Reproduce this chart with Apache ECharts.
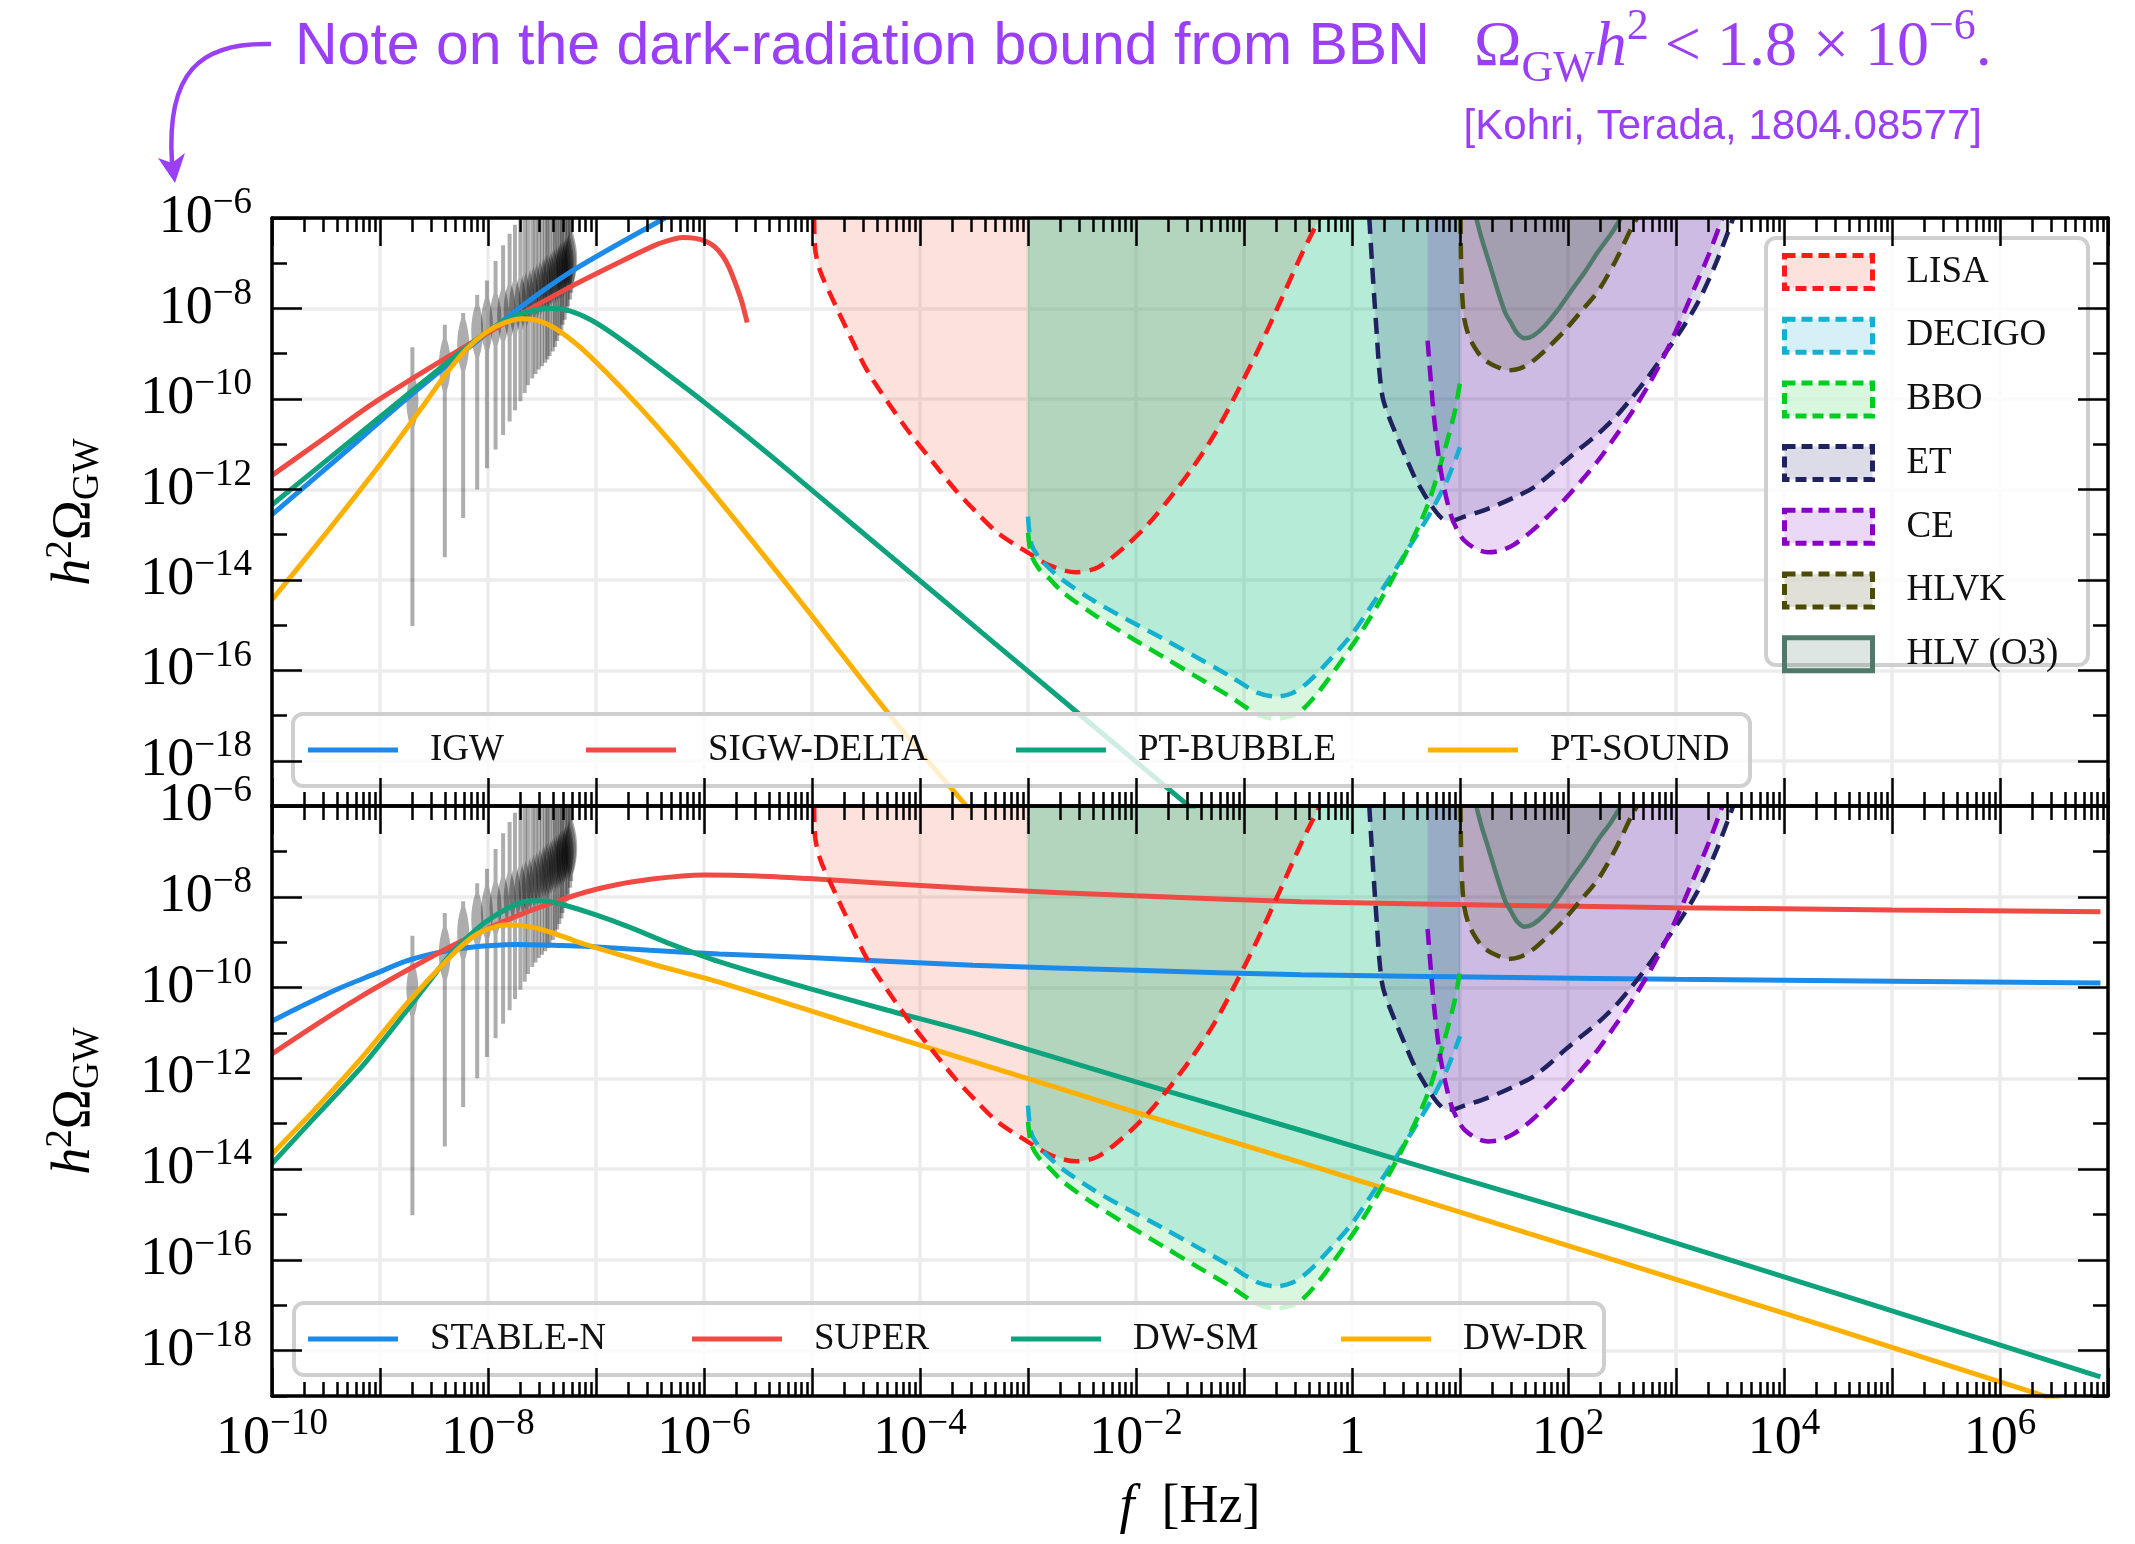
<!DOCTYPE html>
<html>
<head>
<meta charset="utf-8">
<title>Gravitational-wave spectra and detector sensitivities</title>
<script src="https://cdn.jsdelivr.net/npm/echarts@6.0.0/dist/echarts.min.js"></script>
<style>
  html, body { margin: 0; padding: 0; background: #ffffff; }
  #chart { width: 2135px; height: 1544px; }
</style>
</head>
<body>
<div id="chart"></div>
<script>
// Every curve is a list of [log10(f / Hz), log10(h^2 Omega_GW)] pairs.

// ---- upper panel: primordial sources ----
const igw = [[-10,-12.56],[-9.38,-11.29],[-8.70,-9.89],[-7.84,-8.23],[-7.22,-7.17],[-6.36,-6.0]];
const sigwDelta = [[-10,-11.69],[-9.5,-10.84],[-9.07,-10.11],[-8.46,-9.2],[-7.84,-8.32],[-7.22,-7.5],[-6.76,-6.95],[-6.45,-6.6],[-6.3,-6.48],[-6.2,-6.43],[-6.08,-6.45],[-5.98,-6.52],[-5.9,-6.64],[-5.83,-6.83],[-5.77,-7.08],[-5.71,-7.44],[-5.65,-7.85],[-5.6,-8.31]];
const ptBubble = [[-10,-12.34],[-9.5,-11.37],[-9.0,-10.4],[-8.5,-9.43],[-8.15,-8.77],[-7.95,-8.42],[-7.75,-8.17],[-7.55,-8.03],[-7.4,-8.0],[-7.25,-8.05],[-7.05,-8.25],[-6.85,-8.55],[-6.6,-8.98],[-6.3,-9.52],[-6.0,-10.07],[-5.6,-10.83],[-5.2,-11.62],[-4.6,-12.82],[-4.0,-14.02],[-3.3,-15.42],[-2.64,-16.74],[-2.0,-18.02],[-1.3,-19.42]];
const ptSound = [[-10,-14.44],[-9.5,-12.97],[-9.0,-11.45],[-8.6,-10.15],[-8.39,-9.45],[-8.2,-8.9],[-8.02,-8.53],[-7.85,-8.32],[-7.68,-8.23],[-7.52,-8.28],[-7.37,-8.45],[-7.15,-8.85],[-6.91,-9.4],[-6.6,-10.17],[-6.29,-11.0],[-5.9,-12.12],[-5.55,-13.15],[-5.0,-14.8],[-4.41,-16.6],[-4.0,-17.8],[-3.57,-19.0],[-3.4,-19.5]];

// ---- lower panel: cosmic strings and domain walls ----
const stableN = [[-10,-10.74],[-9.7,-10.38],[-9.38,-10.02],[-9.05,-9.7],[-8.76,-9.42],[-8.5,-9.25],[-8.25,-9.14],[-8.0,-9.08],[-7.72,-9.05],[-7.4,-9.07],[-7.1,-9.09],[-6.5,-9.18],[-5.86,-9.26],[-5.03,-9.34],[-3.51,-9.51],[-2.0,-9.62],[-0.47,-9.72],[1.5,-9.78],[3.0,-9.82],[5.0,-9.86],[6.93,-9.9]];
const superStr = [[-10,-11.46],[-9.58,-10.8],[-9.17,-10.19],[-8.75,-9.62],[-8.34,-9.09],[-8.0,-8.7],[-7.72,-8.41],[-7.4,-8.13],[-7.1,-7.9],[-6.8,-7.73],[-6.48,-7.61],[-6.2,-7.54],[-5.99,-7.52],[-5.5,-7.54],[-5.03,-7.6],[-3.51,-7.82],[-2.0,-7.98],[-0.47,-8.11],[1.5,-8.19],[2.98,-8.24],[5.0,-8.29],[6.93,-8.33]];
const dwSm = [[-10,-13.88],[-9.6,-12.85],[-9.17,-11.75],[-8.75,-10.5],[-8.34,-9.25],[-8.1,-8.7],[-7.93,-8.41],[-7.75,-8.18],[-7.6,-8.09],[-7.45,-8.1],[-7.31,-8.17],[-7.0,-8.4],[-6.69,-8.67],[-6.3,-9.05],[-5.86,-9.43],[-5.03,-10.02],[-4.3,-10.5],[-3.51,-11.0],[-2.0,-12.08],[-0.47,-13.15],[1.0,-14.2],[2.49,-15.25],[4.7,-16.9],[6.93,-18.58]];
const dwDr = [[-10,-13.67],[-9.6,-12.68],[-9.17,-11.55],[-8.75,-10.35],[-8.34,-9.3],[-8.15,-8.9],[-8.01,-8.72],[-7.85,-8.62],[-7.7,-8.63],[-7.52,-8.71],[-7.3,-8.88],[-7.1,-9.05],[-6.5,-9.47],[-5.86,-9.88],[-4.7,-10.75],[-3.51,-11.63],[-2.0,-12.75],[-0.47,-13.86],[1.0,-14.95],[2.49,-16.05],[4.5,-17.55],[6.53,-19.09],[7.0,-19.45]];

// ---- detector sensitivity curves (filled towards the top of the panel) ----
const lisa = [[-4.98,-6.0],[-4.97,-6.7],[-4.92,-7.2],[-4.81,-7.79],[-4.65,-8.6],[-4.49,-9.37],[-4.29,-10.1],[-4.09,-10.77],[-3.88,-11.4],[-3.68,-11.99],[-3.48,-12.5],[-3.28,-12.96],[-3.0,-13.4],[-2.8,-13.68],[-2.56,-13.83],[-2.35,-13.72],[-2.08,-13.22],[-1.88,-12.75],[-1.68,-12.17],[-1.47,-11.5],[-1.27,-10.77],[-1.07,-9.88],[-0.87,-8.92],[-0.67,-7.88],[-0.47,-6.82],[-0.3,-6.0]];
const decigo = [[-3.0,-12.6],[-2.97,-13.2],[-2.9,-13.5],[-2.8,-13.75],[-2.68,-14.0],[-2.4,-14.45],[-2.08,-14.88],[-1.75,-15.3],[-1.47,-15.67],[-1.15,-16.1],[-0.87,-16.5],[-0.7,-16.58],[-0.55,-16.5],[-0.4,-16.25],[-0.2,-15.75],[0.0,-15.2],[0.2,-14.5],[0.38,-13.85],[0.55,-13.2],[0.73,-12.5],[0.88,-11.8],[1.0,-11.07]];
const bbo = [[-3.0,-12.96],[-2.97,-13.45],[-2.9,-13.75],[-2.8,-13.98],[-2.68,-14.27],[-2.4,-14.75],[-2.08,-15.23],[-1.75,-15.7],[-1.47,-16.1],[-1.15,-16.55],[-0.87,-16.98],[-0.71,-17.07],[-0.55,-17.0],[-0.45,-16.85],[-0.3,-16.45],[-0.1,-15.8],[0.1,-15.1],[0.3,-14.3],[0.5,-13.4],[0.7,-12.35],[0.85,-11.2],[0.95,-10.3],[1.0,-9.63]];
const et = [[0.16,-6.0],[0.183,-6.91],[0.207,-7.79],[0.232,-8.66],[0.253,-9.37],[0.285,-9.98],[0.346,-10.42],[0.42,-10.85],[0.5,-11.3],[0.58,-11.73],[0.66,-12.07],[0.73,-12.34],[0.8,-12.56],[0.87,-12.69],[0.95,-12.68],[1.04,-12.6],[1.2,-12.48],[1.35,-12.34],[1.5,-12.18],[1.66,-11.99],[1.82,-11.7],[1.97,-11.38],[2.12,-11.08],[2.28,-10.77],[2.44,-10.4],[2.59,-9.98],[2.74,-9.52],[2.89,-9.02],[3.05,-8.47],[3.2,-7.88],[3.37,-7.0],[3.53,-6.0]];
const ce = [[0.70,-8.71],[0.73,-9.6],[0.76,-10.42],[0.79,-11.05],[0.82,-11.56],[0.87,-12.15],[0.92,-12.6],[0.98,-12.92],[1.04,-13.13],[1.15,-13.32],[1.26,-13.39],[1.38,-13.35],[1.5,-13.22],[1.65,-12.95],[1.81,-12.6],[1.97,-12.22],[2.12,-11.82],[2.28,-11.36],[2.43,-10.86],[2.59,-10.3],[2.74,-9.72],[2.9,-9.0],[3.05,-8.23],[3.18,-7.5],[3.3,-6.83],[3.43,-6.0]];
const hlvk = [[1.005,-6.0],[1.01,-7.0],[1.02,-7.7],[1.04,-8.23],[1.08,-8.6],[1.13,-8.84],[1.19,-9.05],[1.26,-9.19],[1.35,-9.3],[1.44,-9.37],[1.55,-9.33],[1.66,-9.19],[1.8,-8.9],[1.97,-8.49],[2.12,-8.07],[2.28,-7.61],[2.44,-6.95],[2.59,-6.21],[2.64,-6.0]];
const hlvO3 = [[1.15,-6.0],[1.2,-6.45],[1.26,-6.91],[1.35,-7.61],[1.42,-8.1],[1.47,-8.31],[1.53,-8.55],[1.6,-8.66],[1.68,-8.6],[1.78,-8.4],[1.9,-8.05],[2.03,-7.61],[2.16,-7.18],[2.28,-6.74],[2.4,-6.35],[2.49,-6.0]];

// ---- pulsar-timing free-spectrum violins: [log10 f, lower end, upper end, median] ----
const ptaViolins = [
  [-8.70,-15.02,-8.86,-10.05],[-8.40,-13.50,-8.36,-9.25],[-8.23,-12.63,-8.10,-8.80],
  [-8.10,-12.00,-7.70,-8.50],[-8.01,-11.53,-7.38,-8.35],[-7.93,-11.12,-6.95,-8.25],
  [-7.86,-10.80,-6.60,-8.15],[-7.80,-10.50,-6.35,-8.05],[-7.75,-10.25,-6.15,-7.97],
  [-7.70,-10.05,-5.90,-7.90],[-7.66,-9.87,-5.50,-7.83],[-7.63,-9.70,-5.50,-7.76],
  [-7.59,-9.55,-5.50,-7.70],[-7.56,-9.45,-5.50,-7.64],[-7.53,-9.35,-5.50,-7.58],
  [-7.50,-9.28,-5.50,-7.52],[-7.47,-9.20,-5.50,-7.47],[-7.45,-9.13,-5.50,-7.42],
  [-7.43,-9.05,-5.50,-7.37],[-7.40,-8.95,-5.50,-7.32],[-7.38,-8.85,-5.50,-7.28],
  [-7.36,-8.72,-5.50,-7.24],[-7.34,-8.60,-5.50,-7.20],[-7.32,-8.48,-5.50,-7.16],
  [-7.31,-8.36,-5.50,-7.12],[-7.29,-8.25,-5.50,-7.08],[-7.27,-8.10,-5.50,-7.04],
  [-7.26,-7.95,-5.50,-7.00],[-7.24,-7.80,-5.50,-6.96],[-7.23,-7.65,-5.50,-6.92]
];

// ---- axis ticks (exponents) ----
const xDecades = [-10,-9,-8,-7,-6,-5,-4,-3,-2,-1,0,1,2,3,4,5,6,7];
const xLabelDecades = [-10,-8,-6,-4,-2,0,2,4,6];
const yMajor = [-18,-16,-14,-12,-10,-8,-6];
const yMinor = [-19,-17,-15,-13,-11,-9,-7];
const xMinor = [];
for (let n = -10; n < 7; n++) {
  for (let k = 2; k <= 9; k++) xMinor.push(n + Math.log10(k));
}

const SERIF = '"Liberation Serif", "DejaVu Serif", serif';
const SANS = '"Liberation Sans", "DejaVu Sans", Arial, sans-serif';
const PURPLE = '#9a3ff5';
const GRID_LINE = '#ececec';

const upperLines = [
  { name: 'IGW', data: igw, color: '#1c8ae8' },
  { name: 'SIGW-DELTA', data: sigwDelta, color: '#ef4b44' },
  { name: 'PT-BUBBLE', data: ptBubble, color: '#0ea37c' },
  { name: 'PT-SOUND', data: ptSound, color: '#fdb000' }
];
const lowerLines = [
  { name: 'STABLE-N', data: stableN, color: '#1c8ae8' },
  { name: 'SUPER', data: superStr, color: '#ef4b44' },
  { name: 'DW-SM', data: dwSm, color: '#0ea37c' },
  { name: 'DW-DR', data: dwDr, color: '#fdb000' }
];
const detectors = [
  { name: 'LISA', data: lisa, color: '#ff1a1a', fill: 'rgba(245,70,40,0.16)', dash: true },
  { name: 'DECIGO', data: decigo, color: '#14b0d0', fill: 'rgba(20,176,208,0.18)', dash: true },
  { name: 'BBO', data: bbo, color: '#00cc22', fill: 'rgba(0,204,34,0.15)', dash: true },
  { name: 'ET', data: et, color: '#202260', fill: 'rgba(22,22,102,0.15)', dash: true },
  { name: 'CE', data: ce, color: '#8800c4', fill: 'rgba(138,22,200,0.17)', dash: true },
  { name: 'HLVK', data: hlvk, color: '#4b4b05', fill: 'rgba(73,73,26,0.17)', dash: true },
  { name: 'HLV (O3)', data: hlvO3, color: '#4f7a6a', fill: 'rgba(79,122,106,0.19)', dash: false }
];

function powLabel(v) {
  const n = Math.round(v);
  if (n === 0) return '{b|1}';
  return '{b|10}{s|' + (n < 0 ? '\u2212' : '') + Math.abs(n) + '}';
}
const tickRich = {
  b: { fontFamily: SERIF, fontSize: 54, lineHeight: 66, color: '#000' },
  s: { fontFamily: SERIF, fontSize: 37, lineHeight: 32, verticalAlign: 'top', color: '#000' }
};

const frameLine = { show: true, onZero: false, lineStyle: { color: '#000', width: 3.5 } };
const tickLine = { color: '#000', width: 2.5 };
const noLine = { show: false, onZero: false };

function xAxesFor(g, withLabels) {
  const base = { type: 'value', gridIndex: g, min: -10, max: 7, splitLine: { show: false }, axisLabel: { show: false }, axisPointer: { show: false } };
  const main = Object.assign({}, base, {
    position: 'bottom', z: 0, axisLine: noLine,
    axisTick: { show: false, customValues: xDecades },
    splitLine: { show: true, lineStyle: { color: GRID_LINE, width: 3.5 } },
    axisLabel: withLabels
      ? { show: true, customValues: xLabelDecades, formatter: powLabel, rich: tickRich, margin: 10 }
      : { show: false }
  });
  if (withLabels) {
    main.name = '{i|f}{r|  [Hz]}';
    main.nameLocation = 'middle';
    main.nameGap = 80;
    main.nameTextStyle = {
      rich: {
        i: { fontFamily: SERIF, fontStyle: 'italic', fontSize: 54, lineHeight: 64, color: '#000' },
        r: { fontFamily: SERIF, fontSize: 54, lineHeight: 64, color: '#000' }
      }
    };
  }
  const mk = (pos, values, len, line) => Object.assign({}, base, {
    position: pos, z: 5, axisLine: line ? frameLine : noLine,
    axisTick: { show: true, inside: true, length: len, customValues: values, lineStyle: tickLine }
  });
  return [main, mk('bottom', xDecades, 28, true), mk('bottom', xMinor, 14, false), mk('top', xDecades, 28, true), mk('top', xMinor, 14, false)];
}

function yAxesFor(g) {
  const base = { type: 'value', gridIndex: g, min: -19, max: -6, splitLine: { show: false }, axisLabel: { show: false }, axisPointer: { show: false } };
  const main = Object.assign({}, base, {
    position: 'left', z: 0, axisLine: noLine,
    axisTick: { show: false, customValues: yMajor },
    splitLine: { show: true, lineStyle: { color: GRID_LINE, width: 3.5 } },
    axisLabel: { show: true, customValues: yMajor, formatter: powLabel, rich: tickRich, margin: 20 },
    name: '{i|h}{sup|2}{r|\u03A9}{sub|GW}',
    nameLocation: 'middle', nameRotate: 90, nameGap: 165,
    nameTextStyle: {
      rich: {
        i: { fontFamily: SERIF, fontStyle: 'italic', fontSize: 54, lineHeight: 64, color: '#000' },
        sup: { fontFamily: SERIF, fontSize: 37, lineHeight: 30, verticalAlign: 'top', color: '#000' },
        r: { fontFamily: SERIF, fontSize: 54, lineHeight: 64, color: '#000' },
        sub: { fontFamily: SERIF, fontSize: 37, lineHeight: 42, verticalAlign: 'bottom', color: '#000' }
      }
    }
  });
  const mk = (pos, values, len, line) => Object.assign({}, base, {
    position: pos, z: 5, axisLine: line ? frameLine : noLine,
    axisTick: { show: true, inside: true, length: len, customValues: values, lineStyle: tickLine }
  });
  return [main, mk('left', yMajor, 30, true), mk('left', yMinor, 15, false), mk('right', yMajor, 30, true), mk('right', yMinor, 15, false)];
}

// Violin glyph: thin stem between the ends, widened around the median.
function renderViolin(params, api) {
  const f = api.value(0), lo = api.value(1), hi = api.value(2), med = api.value(3);
  const top = api.coord([f, hi]);
  const bot = api.coord([f, lo]);
  const mid = api.coord([f, med]);
  const x = mid[0], ym = mid[1];
  const stem = 2, bulge = 6, bh = 26;
  const left = [[x - stem, top[1]]];
  for (let i = -4; i <= 4; i++) {
    const t = i / 4;
    left.push([x - (stem + (bulge - stem) * (1 - t * t)), ym + t * bh]);
  }
  left.push([x - stem, bot[1]]);
  const right = left.map(p => [2 * x - p[0], p[1]]).reverse();
  return {
    type: 'polygon',
    shape: { points: left.concat(right) },
    style: { fill: 'rgba(0,0,0,0.32)' }
  };
}

function seriesFor(g, lines) {
  const ax = { xAxisIndex: 5 * g, yAxisIndex: 5 * g };
  const out = [];
  out.push(Object.assign({
    type: 'custom', name: 'PTA violins', data: ptaViolins, renderItem: renderViolin,
    encode: { x: 0, y: [1, 2, 3] }, clip: true, silent: true, z: 2
  }, ax));
  lines.forEach(l => out.push(Object.assign({
    type: 'line', name: l.name, data: l.data, smooth: 0.25,
    symbol: 'none', showSymbol: false, clip: true, silent: true, z: 2,
    lineStyle: { color: l.color, width: 5 }, itemStyle: { color: l.color }
  }, ax)));
  detectors.forEach(d => out.push(Object.assign({
    type: 'line', name: d.name, data: d.data, smooth: 0.3,
    symbol: 'none', showSymbol: false, clip: true, silent: true, z: 2,
    lineStyle: { color: d.color, width: 4.5, type: d.dash ? [16, 9] : 'solid' },
    itemStyle: { color: d.color },
    areaStyle: { color: d.fill, origin: 'end', opacity: 1 }
  }, ax)));
  return out;
}

const legendText = { fontFamily: SERIF, fontSize: 37, color: '#111', lineHeight: 40, padding: [0, 0, 0, 27] };
function lineLegend(item, left, top) {
  return {
    data: [{ name: item.name, icon: 'rect', itemStyle: { color: item.color, borderWidth: 0 } }],
    left: left, top: top, padding: 0, itemWidth: 90, itemHeight: 5,
    selectedMode: false, textStyle: legendText, z: 6
  };
}
const upperLegendX = [308, 586, 1016, 1428];
const lowerLegendX = [308, 692, 1011, 1341];

const legends = [];
upperLines.forEach((l, i) => legends.push(lineLegend(l, upperLegendX[i], 730)));
lowerLines.forEach((l, i) => legends.push(lineLegend(l, lowerLegendX[i], 1319)));
legends.push({
  data: detectors.map(d => ({
    name: d.name, icon: 'rect',
    itemStyle: { color: d.fill, borderColor: d.color, borderWidth: 5, borderType: d.dash ? [11, 6] : 'solid' }
  })),
  orient: 'vertical', left: 1782, top: 253, padding: 0,
  itemWidth: 88, itemHeight: 33, itemGap: 25.7, selectedMode: false, z: 6,
  textStyle: { fontFamily: SERIF, fontSize: 37, color: '#111', lineHeight: 33, padding: [0, 0, 0, 29] }
});

const legendBox = (x, y, w, h) => ({
  type: 'rect', z: 3,
  shape: { x: x, y: y, width: w, height: h, r: 10 },
  style: { fill: 'rgba(255,255,255,0.8)', stroke: '#cfcfcf', lineWidth: 4 }
});

const option = {
  animation: false,
  backgroundColor: '#ffffff',
  grid: [
    { left: 272, top: 218, width: 1836, height: 588 },
    { left: 272, top: 806, width: 1836, height: 590 }
  ],
  xAxis: xAxesFor(0, false).concat(xAxesFor(1, true)),
  yAxis: yAxesFor(0).concat(yAxesFor(1)),
  legend: legends,
  series: seriesFor(0, upperLines).concat(seriesFor(1, lowerLines)),
  graphic: {
    elements: [
      legendBox(293, 714, 1457, 72),
      legendBox(294, 1303, 1310, 72),
      legendBox(1766, 238, 322, 427),
      {
        type: 'text', x: 295, y: 48, z: 10,
        style: { text: 'Note on the dark-radiation bound from BBN', font: '59px ' + SANS, fill: PURPLE, verticalAlign: 'middle' }
      },
      {
        type: 'text', x: 1474, y: 48, z: 10,
        style: {
          text: '{m|\u03A9}{sub|GW}{mi|h}{sup|2}{m| < 1.8 \u00D7 10}{sup|\u22126}{m|.}',
          verticalAlign: 'middle', fill: PURPLE,
          rich: {
            m: { fontFamily: SERIF, fontSize: 64, lineHeight: 86, fill: PURPLE },
            mi: { fontFamily: SERIF, fontStyle: 'italic', fontSize: 64, lineHeight: 86, fill: PURPLE },
            sup: { fontFamily: SERIF, fontSize: 44, lineHeight: 40, verticalAlign: 'top', fill: PURPLE },
            sub: { fontFamily: SERIF, fontSize: 44, lineHeight: 52, verticalAlign: 'bottom', fill: PURPLE }
          }
        }
      },
      {
        type: 'text', x: 1982, y: 127, z: 10,
        style: { text: '[Kohri, Terada, 1804.08577]', font: '42px ' + SANS, fill: PURPLE, align: 'right', verticalAlign: 'middle' }
      },
      {
        type: 'bezierCurve', z: 10,
        shape: { x1: 271, y1: 44, cpx1: 200, cpy1: 42, cpx2: 166, cpy2: 72, x2: 172, y2: 163 },
        style: { stroke: PURPLE, lineWidth: 4.5, fill: null }
      },
      {
        type: 'polygon', z: 10,
        shape: { points: [[158, 158], [175, 183], [185, 153], [172, 163]] },
        style: { fill: PURPLE }
      }
    ]
  }
};

const chart = echarts.init(document.getElementById('chart'), null, { renderer: 'canvas' });
chart.setOption(option);
</script>
</body>
</html>
